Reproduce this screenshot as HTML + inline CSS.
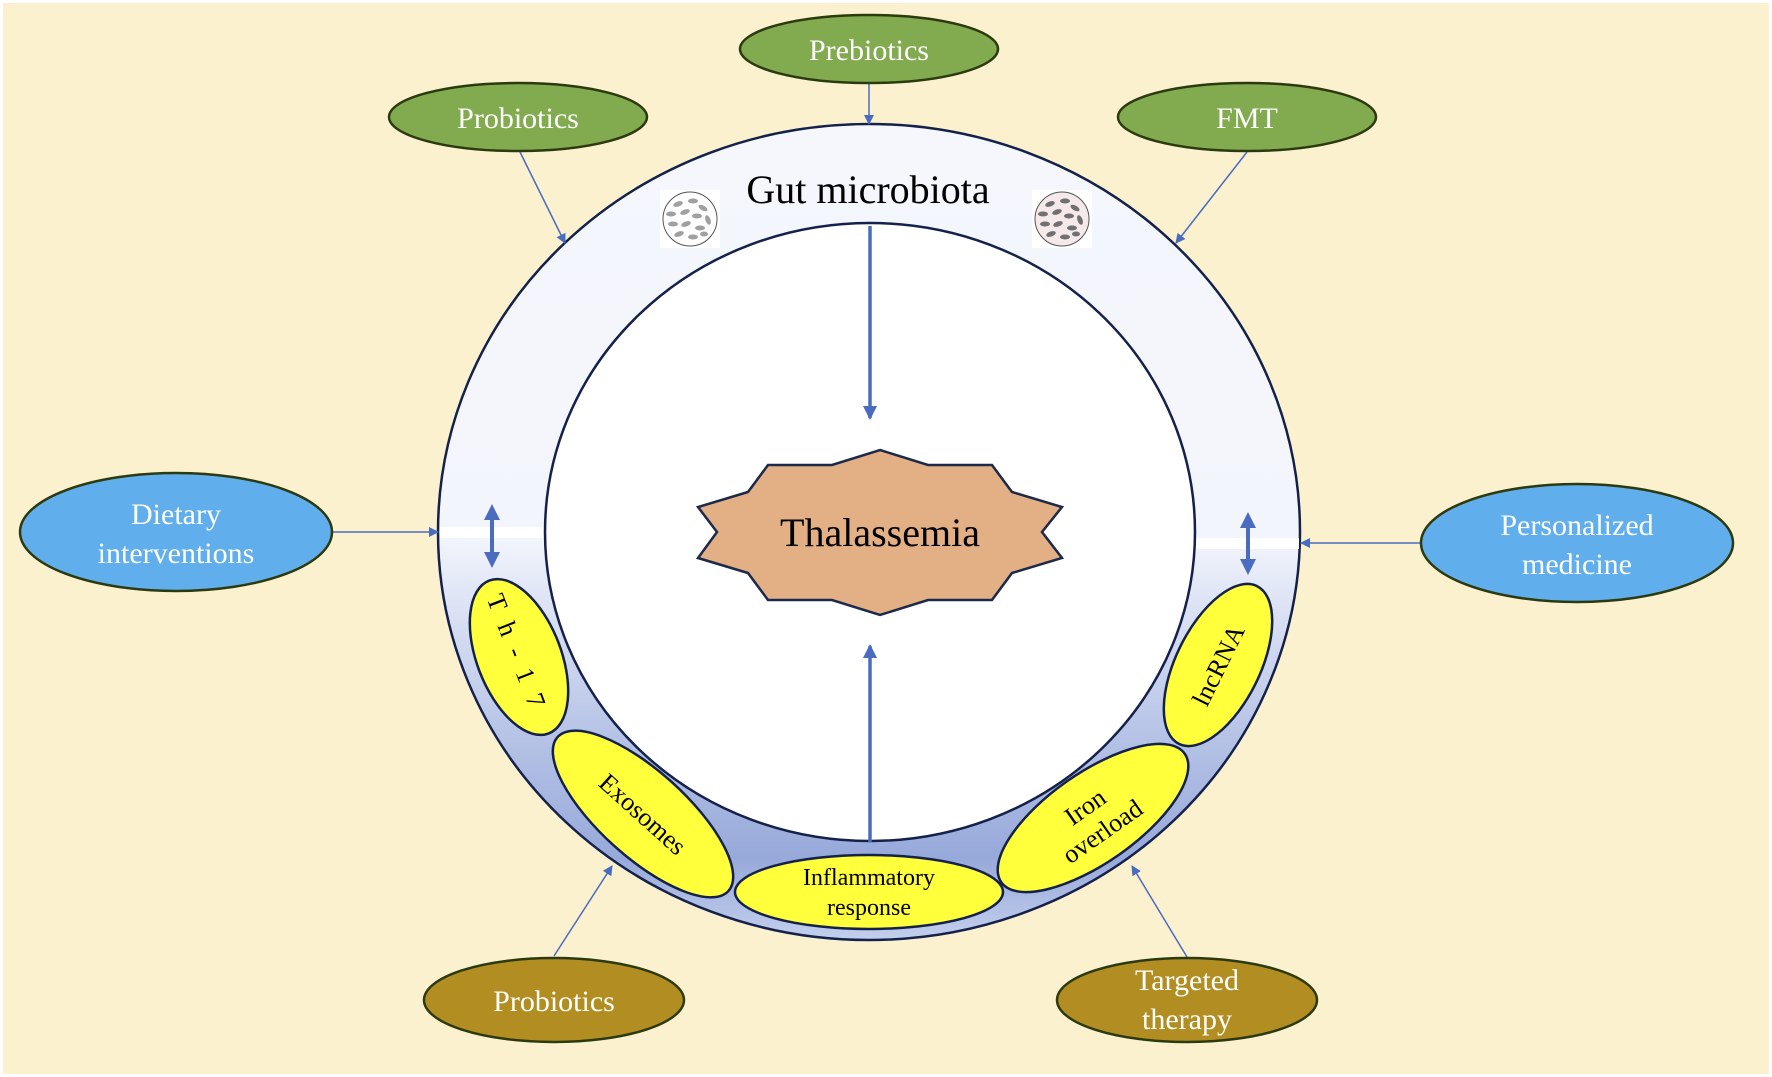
<!DOCTYPE html>
<html><head><meta charset="utf-8"><style>
html,body{margin:0;padding:0;background:#fff}
svg{display:block}
svg text{font-family:"Liberation Serif","Times New Roman","DejaVu Serif",serif !important}
</style></head><body>
<svg width="1772" height="1077" viewBox="0 0 1772 1077" xmlns="http://www.w3.org/2000/svg" font-family="'Liberation Serif', 'Times New Roman', 'DejaVu Serif', serif">
<defs>
<linearGradient id="ring" x1="0" y1="0" x2="0" y2="1" gradientUnits="objectBoundingBox">
<stop offset="0" stop-color="#F5F7FD"/>
<stop offset="0.51" stop-color="#F3F5FC"/>
<stop offset="0.56" stop-color="#E4E9F7"/>
<stop offset="0.75" stop-color="#B6C3E6"/>
<stop offset="0.9" stop-color="#97A9DA"/>
<stop offset="1" stop-color="#C3CFEC"/>
</linearGradient>
<marker id="ah" markerWidth="10" markerHeight="10" refX="9" refY="5" orient="auto" markerUnits="userSpaceOnUse">
<path d="M0,0 L10,5 L0,10 z" fill="#4A6CC0"/>
</marker>
<marker id="ahb" markerWidth="14" markerHeight="14" refX="12" refY="7" orient="auto" markerUnits="userSpaceOnUse">
<path d="M0,0 L14,7 L0,14 z" fill="#4A6CC0"/>
</marker>
</defs>
<rect x="0" y="0" width="1772" height="1077" fill="#fff"/>
<rect x="3" y="3" width="1766" height="1071" fill="#FBF1CE"/>

<ellipse cx="869" cy="532" rx="431" ry="408" fill="url(#ring)" stroke="#14214A" stroke-width="2.5"/>
<rect x="440" y="527" width="106" height="11" fill="#fff"/>
<rect x="1194" y="538" width="105" height="11" fill="#fff"/>
<ellipse cx="870" cy="532" rx="325" ry="309" fill="#fff" stroke="#14214A" stroke-width="2.5"/>

<text x="868" y="203" font-size="40" text-anchor="middle" fill="#000" font-family="'Liberation Serif', 'Times New Roman', serif">Gut microbiota</text>

<g>
<rect x="660" y="190" width="60" height="58" fill="#fff"/>
<circle cx="690" cy="219" r="27" fill="#fff" stroke="#555" stroke-width="1"/>
<g fill="#A0A0A0">
<ellipse cx="678" cy="204" rx="5" ry="2.5" transform="rotate(-20 678 204)"/><ellipse cx="693" cy="201" rx="5" ry="2.5"/><ellipse cx="703" cy="208" rx="5" ry="2.5" transform="rotate(30 703 208)"/>
<ellipse cx="671" cy="214" rx="5" ry="2.5"/><ellipse cx="685" cy="212" rx="5" ry="2.5" transform="rotate(-20 685 212)"/><ellipse cx="697" cy="216" rx="5" ry="2.5"/><ellipse cx="708" cy="220" rx="5" ry="2.5" transform="rotate(70 708 220)"/>
<ellipse cx="673" cy="224" rx="5" ry="2.5"/><ellipse cx="686" cy="224" rx="5" ry="2.5" transform="rotate(-20 686 224)"/><ellipse cx="700" cy="228" rx="5" ry="2.5"/>
<ellipse cx="679" cy="234" rx="5" ry="2.5" transform="rotate(-20 679 234)"/><ellipse cx="693" cy="237" rx="5" ry="2.5"/><ellipse cx="704" cy="234" rx="4" ry="2.5"/>
</g>
<rect x="1032" y="190" width="60" height="58" fill="#fff"/>
<circle cx="1062" cy="219" r="27" fill="#F6E9E9" stroke="#555" stroke-width="1"/>
<g fill="#707070">
<ellipse cx="1050" cy="204" rx="5" ry="2.5" transform="rotate(-20 1050 204)"/><ellipse cx="1065" cy="201" rx="5" ry="2.5"/><ellipse cx="1075" cy="208" rx="5" ry="2.5" transform="rotate(30 1075 208)"/>
<ellipse cx="1043" cy="214" rx="5" ry="2.5"/><ellipse cx="1057" cy="212" rx="5" ry="2.5" transform="rotate(-20 1057 212)"/><ellipse cx="1069" cy="216" rx="5" ry="2.5"/><ellipse cx="1080" cy="220" rx="5" ry="2.5" transform="rotate(70 1080 220)"/>
<ellipse cx="1045" cy="224" rx="5" ry="2.5"/><ellipse cx="1058" cy="224" rx="5" ry="2.5" transform="rotate(-20 1058 224)"/><ellipse cx="1072" cy="228" rx="5" ry="2.5"/>
<ellipse cx="1051" cy="234" rx="5" ry="2.5" transform="rotate(-20 1051 234)"/><ellipse cx="1065" cy="237" rx="5" ry="2.5"/><ellipse cx="1076" cy="234" rx="4" ry="2.5"/>
</g>
</g>

<polygon points="880,450 928,465 992,465 1012,492 1062,507 1042,532 1062,558 1012,573 992,600 928,600 880,615 832,600 768,600 748,573 698,558 717,532 698,507 748,492 768,465 832,465" fill="#E3AF84" stroke="#1C2A4A" stroke-width="2.5"/>
<text x="880" y="546" font-size="40" text-anchor="middle" fill="#000" font-family="'Liberation Serif', 'Times New Roman', serif">Thalassemia</text>

<line x1="870" y1="226" x2="870" y2="418" stroke="#4A6CC0" stroke-width="3.5" marker-end="url(#ahb)"/>
<line x1="870" y1="842" x2="870" y2="646" stroke="#4A6CC0" stroke-width="3.5" marker-end="url(#ahb)"/>

<line x1="492" y1="520" x2="492" y2="552" stroke="#4A6CC0" stroke-width="4"/>
<path d="M492,504 L484,520 L500,520 z M492,568 L484,552 L500,552 z" fill="#4A6CC0"/>
<line x1="1248" y1="528" x2="1248" y2="559" stroke="#4A6CC0" stroke-width="4"/>
<path d="M1248,512 L1240,528 L1256,528 z M1248,575 L1240,559 L1256,559 z" fill="#4A6CC0"/>

<g fill="#FFFF3C" stroke="#14214A" stroke-width="2.5">
<ellipse cx="0" cy="0" rx="82" ry="42" transform="translate(519,657) rotate(68.7)"/>
<ellipse cx="0" cy="0" rx="115" ry="43" transform="translate(643,814) rotate(42)"/>
<ellipse cx="869" cy="892" rx="134" ry="37"/>
<ellipse cx="0" cy="0" rx="112" ry="45" transform="translate(1093,818) rotate(-35)"/>
<ellipse cx="0" cy="0" rx="88" ry="42" transform="translate(1218,665) rotate(-63.7)"/>
</g>
<g fill="#000" font-size="26" text-anchor="middle" font-family="'Liberation Serif', 'Times New Roman', serif">
<text transform="translate(519,657) rotate(68.7)" y="9" letter-spacing="14">Th-17</text>
<text transform="translate(643,814) rotate(42)" y="9">Exosomes</text>
<text x="869" y="885" font-size="24">Inflammatory</text>
<text x="869" y="915" font-size="24">response</text>
<text transform="translate(1093,818) rotate(-35)" y="-5">Iron</text>
<text transform="translate(1093,818) rotate(-35)" y="25">overload</text>
<text transform="translate(1218,665) rotate(-63.7)" y="9">lncRNA</text>
</g>

<g stroke="#4A6CC0" stroke-width="1.5" fill="none" marker-end="url(#ah)">
<line x1="520" y1="152" x2="565" y2="243"/>
<line x1="869" y1="84" x2="869" y2="124"/>
<line x1="1247" y1="152" x2="1176" y2="243"/>
<line x1="332" y1="532" x2="438" y2="532"/>
<line x1="1421" y1="543" x2="1301" y2="543"/>
<line x1="554" y1="956" x2="612" y2="866"/>
<line x1="1187" y1="957" x2="1132" y2="866"/>
</g>

<g stroke="#2C3A10" stroke-width="2.5">
<ellipse cx="518" cy="117" rx="129" ry="34" fill="#82AB50"/>
<ellipse cx="869" cy="49" rx="129" ry="34" fill="#82AB50"/>
<ellipse cx="1247" cy="117" rx="129" ry="34" fill="#82AB50"/>
<ellipse cx="176" cy="532" rx="156" ry="59" fill="#61AEEC"/>
<ellipse cx="1577" cy="543" rx="156" ry="59" fill="#61AEEC"/>
<ellipse cx="554" cy="1000" rx="130" ry="42" fill="#B28E22"/>
<ellipse cx="1187" cy="1000" rx="130" ry="42" fill="#B28E22"/>
</g>
<g fill="#fff" font-size="30" text-anchor="middle" font-family="'Liberation Serif', 'Times New Roman', serif">
<text x="518" y="128">Probiotics</text>
<text x="869" y="60">Prebiotics</text>
<text x="1247" y="128">FMT</text>
<text x="176" y="524">Dietary</text>
<text x="176" y="563">interventions</text>
<text x="1577" y="535">Personalized</text>
<text x="1577" y="574">medicine</text>
<text x="554" y="1011">Probiotics</text>
<text x="1187" y="990">Targeted</text>
<text x="1187" y="1029">therapy</text>
</g>
</svg>
</body></html>
